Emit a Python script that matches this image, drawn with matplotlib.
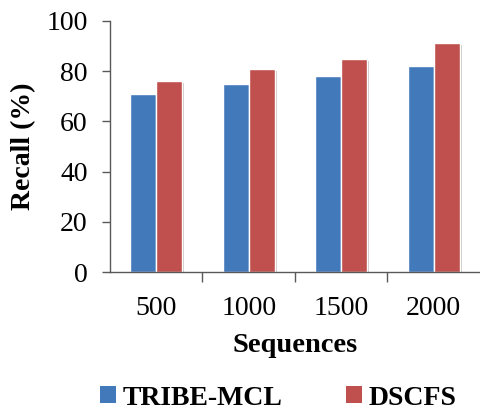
import numpy as np
import matplotlib
matplotlib.use("Agg")
import matplotlib.pyplot as plt
import matplotlib.patheffects as pe
from matplotlib.patches import Patch

# --- data ---
sequences = ["500", "1000", "1500", "2000"]
tribe_mcl = [71, 75, 78, 82]
dscfs = [76, 81, 85, 91]
y_ticks = [0, 20, 40, 60, 80, 100]

blue = "#4279BB"
red = "#C0504D"
axis_gray = "#595959"
fs = 20

plt.rcParams["font.family"] = ["Liberation Serif", "DejaVu Serif"]

fig = plt.figure(figsize=(4.8, 4.13), dpi=100)
ax = fig.add_axes([0.229, 0.3407, 0.771, 0.609])

x = np.arange(len(sequences))
w = 0.28
shadow = [pe.SimplePatchShadow(offset=(1.5, -1.5), alpha=0.25), pe.Normal()]
b1 = ax.bar(x - w / 2, tribe_mcl, w, color=blue, edgecolor="white", linewidth=1.0)
b2 = ax.bar(x + w / 2, dscfs, w, color=red, edgecolor="white", linewidth=1.0)
for b in list(b1) + list(b2):
    b.set_path_effects(shadow)

ax.set_xlim(-0.5, len(sequences) - 0.5)
ax.set_ylim(0, 100)
ax.set_yticks(y_ticks)
ax.tick_params(axis="y", labelsize=fs, length=6, width=1, color=axis_gray, pad=10)

# category labels centred, tick marks between categories
ax.set_xticks(x)
ax.set_xticklabels(sequences, fontsize=fs)
ax.tick_params(axis="x", which="major", length=0, pad=17)
ax.set_xticks(np.arange(0.5, len(sequences) - 0.5, 1), minor=True)
ax.tick_params(axis="x", which="minor", length=7, width=1, color=axis_gray)

for s in ["top", "right"]:
    ax.spines[s].set_visible(False)
for s in ["left", "bottom"]:
    ax.spines[s].set_color(axis_gray)
    ax.spines[s].set_linewidth(1)

ax.set_ylabel("Recall (%)", fontsize=fs, fontweight="bold", labelpad=7)
ax.set_xlabel("Sequences", fontsize=fs + 0.5, fontweight="bold", labelpad=9)

handles = [Patch(facecolor=blue, label="TRIBE-MCL"), Patch(facecolor=red, label="DSCFS")]
fig.legend(handles=handles, loc="center", bbox_to_anchor=(0.58, 0.036), ncol=2,
           frameon=False, prop={"size": fs, "weight": "bold"},
           handlelength=0.55, handleheight=0.55, handletextpad=0.25, columnspacing=2.3)

fig.savefig("out.png", dpi=100)
